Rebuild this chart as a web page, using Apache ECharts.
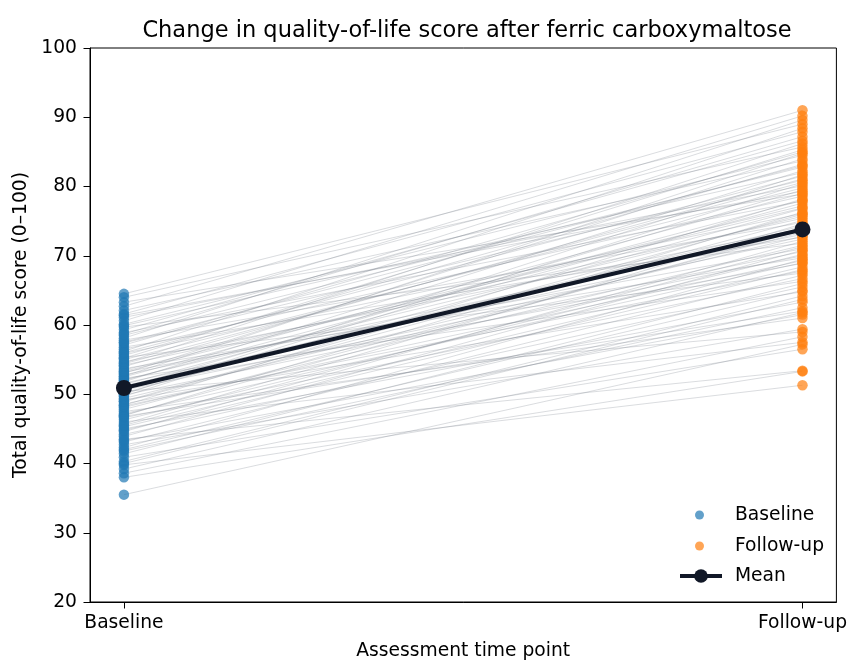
<!DOCTYPE html>
<html>
<head>
<meta charset="utf-8">
<script src="https://cdn.jsdelivr.net/npm/echarts@6/dist/echarts.min.js"></script>
<style>html,body{margin:0;padding:0;background:#fff}#c{width:850px;height:666px}</style>
</head>
<body>
<div id="c"></div>
<script>
// ---- data ----
var timePoints = ['Baseline', 'Follow-up'];
var baselineScores = [
  35.5, 38.0, 38.6, 39.2, 39.8, 40.3, 40.9, 41.4, 41.8, 42.3,
  42.7, 43.1, 43.5, 43.9, 44.2, 44.6, 45.0, 45.3, 45.7, 46.0,
  46.3, 46.6, 46.9, 47.2, 47.5, 47.8, 48.1, 48.4, 48.6, 48.9,
  49.2, 49.4, 49.7, 49.9, 50.2, 50.4, 50.7, 50.9, 51.1, 51.4,
  51.6, 51.8, 52.1, 52.3, 52.5, 52.8, 53.0, 53.2, 53.5, 53.7,
  54.0, 54.2, 54.5, 54.7, 55.0, 55.3, 55.6, 55.9, 56.2, 56.5,
  56.8, 57.1, 57.4, 57.8, 58.1, 58.5, 58.9, 59.3, 59.7, 60.1,
  60.6, 61.1, 61.6, 62.1, 62.7, 63.3, 64.0, 64.5,
  44.8, 47.0, 49.0, 50.0, 50.6, 51.2, 52.0, 52.6, 53.3, 54.4,
  55.2, 56.0, 57.5, 58.7, 45.5, 48.3, 42.0, 46.8, 59.9, 61.4, 43.3, 40.0
];
var followUpScores = [
  57.2, 53.3, 58.3, 61.8, 51.3, 64.2, 56.5, 66.0, 62.5, 69.5,
  59.4, 67.2, 53.4, 70.8, 65.5, 72.1, 63.3, 68.4, 74.6, 57.5,
  70.2, 66.7, 76.3, 69.0, 61.0, 73.4, 71.5, 78.2, 67.8, 75.1,
  64.8, 72.8, 80.4, 70.0, 76.8, 59.0, 74.0, 79.5, 68.9, 77.6,
  72.4, 82.3, 75.7, 66.3, 79.0, 73.1, 84.0, 71.0, 77.2, 69.7,
  81.1, 75.4, 86.2, 73.9, 79.8, 67.5, 83.2, 76.1, 88.4, 78.6,
  72.7, 85.0, 80.9, 74.8, 89.6, 82.8, 77.9, 86.6, 71.8, 84.5,
  90.2, 80.1, 87.9, 83.7, 91.0, 78.9, 85.7, 89.0,
  68.0, 73.7, 76.0, 81.7, 70.6, 74.3, 78.0, 84.8, 76.9, 80.6,
  85.3, 81.5, 83.0, 87.2, 71.3, 69.3, 65.0, 62.0, 82.0, 79.3, 61.5, 63.7
];
var meanScores = [50.9, 73.8];
var yTicks = [20, 30, 40, 50, 60, 70, 80, 90, 100];

// ---- chart ----
var FONT = 'DejaVu Sans';
var FS = 18.7;
var chart = echarts.init(document.getElementById('c'), null, {renderer: 'canvas'});

var series = [];
baselineScores.forEach(function (b, i) {
  series.push({
    type: 'line', silent: true, symbol: 'none', z: 1,
    lineStyle: {color: 'rgba(120,124,136,0.27)', width: 1},
    data: [[0, b], [1, followUpScores[i]]],
    animation: false
  });
});
series.push({
  name: 'Baseline', type: 'scatter', z: 3, symbolSize: 10.5,
  itemStyle: {color: '#1f77b4', opacity: 0.7},
  data: baselineScores.map(function (v) { return [0, v]; })
});
series.push({
  name: 'Follow-up', type: 'scatter', z: 3, symbolSize: 10.5,
  itemStyle: {color: '#ff7f0e', opacity: 0.7},
  data: followUpScores.map(function (v) { return [1, v]; })
});
series.push({
  name: 'Mean', type: 'line', z: 5, symbol: 'circle', symbolSize: 16,
  lineStyle: {color: '#111827', width: 4},
  itemStyle: {color: '#111827'},
  data: meanScores.map(function (v, i) { return [i, v]; })
});

chart.setOption({
  animation: false,
  backgroundColor: '#fff',
  textStyle: {fontFamily: FONT},
  title: {
    text: 'Change in quality-of-life score after ferric carboxymaltose',
    left: 462, top: 15, textAlign: 'center',
    textStyle: {fontFamily: FONT, fontWeight: 'normal', fontSize: 22.5, color: '#000'}
  },
  grid: {left: 90, right: 9, top: 48, bottom: 61, show: true, borderColor: '#000', borderWidth: 1},
  xAxis: {
    type: 'value', min: -0.05, max: 1.05,
    name: 'Assessment time point', nameLocation: 'middle', nameGap: 40,
    nameTextStyle: {fontFamily: FONT, fontSize: FS, color: '#000'},
    splitLine: {show: false},
    axisLine: {onZero: false, lineStyle: {color: '#000', width: 1}},
    axisTick: {show: true, length: 6.5, lineStyle: {color: '#000'}, customValues: [0, 1]},
    axisLabel: {
      fontFamily: FONT, fontSize: FS, color: '#000', margin: 12, customValues: [0, 1],
      formatter: function (v) { return timePoints[Math.round(v)]; }
    }
  },
  yAxis: {
    type: 'value', min: 20, max: 100, interval: 10,
    name: 'Total quality-of-life score (0\u2013100)', nameLocation: 'middle', nameGap: 59,
    nameTextStyle: {fontFamily: FONT, fontSize: FS, color: '#000'},
    splitLine: {show: false},
    axisLine: {show: true, onZero: false, lineStyle: {color: '#000', width: 1}},
    axisTick: {show: true, length: 6.5, lineStyle: {color: '#000'}},
    axisLabel: {fontFamily: FONT, fontSize: FS, color: '#000', margin: 13}
  },
  legend: [{
    data: ['Baseline', 'Follow-up'], orient: 'vertical', left: 690, top: 499,
    itemWidth: 9, itemHeight: 9, itemGap: 9, icon: 'circle',
    textStyle: {fontFamily: FONT, fontSize: FS, color: '#000', lineHeight: 22, padding: [0, 0, 0, 26]}
  }, {
    data: [{name: 'Mean', lineStyle: {width: 4}}], orient: 'vertical', left: 673, top: 560,
    itemWidth: 42, itemHeight: 17,
    textStyle: {fontFamily: FONT, fontSize: FS, color: '#000', lineHeight: 22, padding: [0, 0, 0, 8]}
  }],
  series: series
});
</script>
</body>
</html>
